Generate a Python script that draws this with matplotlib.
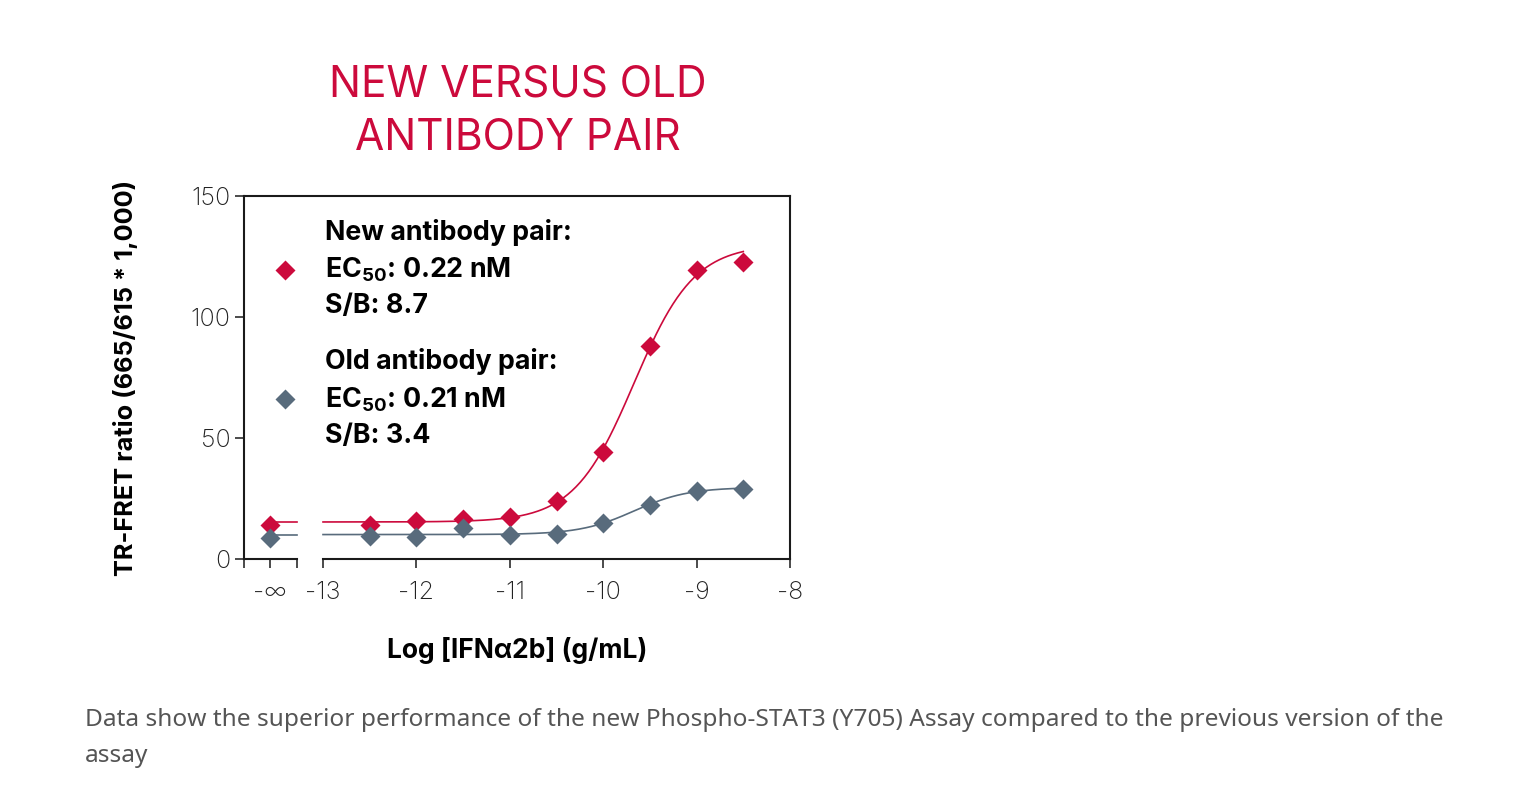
import numpy as np
import matplotlib.pyplot as plt
from matplotlib.lines import Line2D

plt.rcParams['font.family'] = ['Inter', 'DejaVu Sans']
plt.rcParams['mathtext.fontset'] = 'custom'
plt.rcParams['mathtext.rm'] = 'Inter:bold'
plt.rcParams['mathtext.default'] = 'rm'

# data
log_conc = [-12.5, -12, -11.5, -11, -10.5, -10, -9.5, -9, -8.5]
new_zero = 14.1          # value at -infinity (no IFN)
new_vals = [14.0, 15.7, 16.5, 17.4, 24.0, 44.3, 87.9, 119.4, 122.7]
old_zero = 8.7
old_vals = [9.5, 9.1, 12.8, 9.9, 10.4, 14.9, 22.4, 28.2, 29.0]

# 4PL fit parameters estimated from the drawn curves: bottom, top, logEC50, hill
new_fit = [15.3, 130.0, -9.67, 1.35]
old_fit = [10.1, 29.6, -9.67, 1.5]

x_ticks = [-13, -12, -11, -10, -9, -8]
y_ticks = [0, 50, 100, 150]

new_label = 'New antibody pair:\nEC$_{50}$: 0.22 nM\nS/B: 8.7'
old_label = 'Old antibody pair:\nEC$_{50}$: 0.21 nM\nS/B: 3.4'

red = '#CC0A3C'
grey = '#586B7C'

# axis break layout (positions of the -inf segment)
x_left = -13.846
x_ninf = -13.567
x_brk = -13.278


def fourpl(x, p):
    b, t, ec, h = p
    return b + (t - b) / (1 + 10 ** ((ec - x) * h))


fig = plt.figure(figsize=(15.21, 7.93), dpi=100)
ax = fig.add_axes([244 / 1521, 1 - 559 / 793, (790 - 244) / 1521, (559 - 196) / 793])

xs = np.linspace(-13, log_conc[-1], 300)
for p, zero, vals, c in [(new_fit, new_zero, new_vals, red), (old_fit, old_zero, old_vals, grey)]:
    ax.plot(xs, fourpl(xs, p), color=c, lw=1.2, zorder=2)
    ax.plot([x_ninf, x_brk], [p[0], p[0]], color=c, lw=1.2, zorder=2)
    ax.plot([x_ninf] + log_conc, [zero] + vals, 'D', color=c, ms=10.5, mec='none', zorder=3)

ax.set_xlim(x_left, -8)
ax.set_ylim(0, 150)

# broken x axis
ax.spines['bottom'].set_visible(False)
trans = ax.get_xaxis_transform()
ax.plot([x_left, x_brk], [0, 0], color='#1a1a1a', lw=1.5, transform=trans, clip_on=False)
ax.plot([-13, -8], [0, 0], color='#1a1a1a', lw=1.5, transform=trans, clip_on=False)
for s in ['left', 'top', 'right']:
    ax.spines[s].set_linewidth(1.5)
    ax.spines[s].set_color('#1a1a1a')

ax.set_xticks([x_left, x_ninf, x_brk] + x_ticks)
ax.set_xticklabels(['', '-∞', ''] + [str(v) for v in x_ticks])
ax.set_yticks(y_ticks)
ax.set_yticklabels([str(v) for v in y_ticks])
ax.tick_params(axis='both', direction='out', length=6.5, width=1.1, colors='#1a1a1a',
               labelsize=18, labelcolor='#222222')
ax.tick_params(axis='x', pad=9)
ax.tick_params(axis='y', pad=3)
for lab in ax.get_xticklabels() + ax.get_yticklabels():
    lab.set_fontweight('light')

ax.set_xlabel('Log [IFNα2b] (g/mL)', fontsize=19, fontweight='bold', labelpad=24)
ax.set_ylabel('TR-FRET ratio (665/615 * 1,000)', fontsize=18.3, fontweight='bold', labelpad=38)

handles = [Line2D([], [], marker='D', ls='none', color=red, ms=10.5, mec='none'),
           Line2D([], [], marker='D', ls='none', color=grey, ms=10.5, mec='none')]
leg = ax.legend(handles, [new_label, old_label], loc='upper left', bbox_to_anchor=(0.055, 0.937),
                frameon=False, handlelength=0.8, handletextpad=1.12, labelspacing=1.09,
                borderpad=0, borderaxespad=0, prop={'size': 19.3, 'weight': 'bold'})
for t in leg.get_texts():
    t.set_linespacing(1.45)

fig.text(518 / 1521, 1 - 112 / 793, 'NEW VERSUS OLD\nANTIBODY PAIR', ha='center', va='center',
         fontsize=30.5, color=red, linespacing=1.4)

fig.text(85 / 1521, 1 - 738 / 793,
         'Data show the superior performance of the new Phospho-STAT3 (Y705) Assay compared to the previous version of the\nassay',
         ha='left', va='center', fontsize=17.6, color='#555555', linespacing=1.62,
         family=['Noto Sans', 'DejaVu Sans'])

fig.savefig('out.png', dpi=100)
